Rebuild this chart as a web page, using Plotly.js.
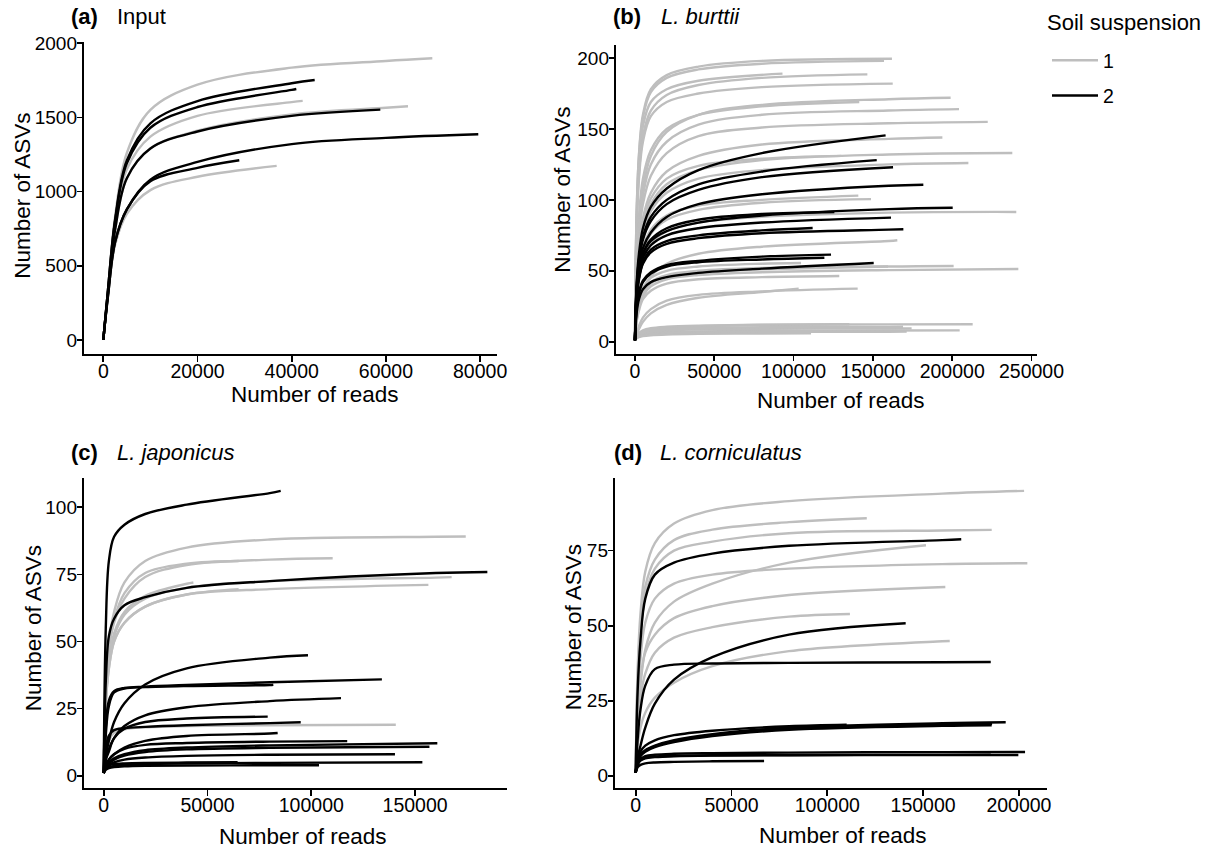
<!DOCTYPE html>
<html>
<head>
<meta charset="utf-8">
<script src="https://cdn.plot.ly/plotly-3.0.1.min.js"></script>
<style>
  html, body { margin: 0; padding: 0; background: #ffffff; }
  #chart { width: 1216px; height: 854px; }
</style>
</head>
<body>
<div id="chart"></div>
<script>
// Rarefaction curves: number of ASVs observed against sequencing depth,
// one curve per sample, coloured by soil suspension (1 = grey, 2 = black).
// Each curve lists the ASV count at the shared sampling depths below its
// own final depth, then ends at the sample's final (reads, ASVs) point.

// ---- (a) Input ----
const inputDepths = [1, 1000, 2500, 5000, 10000, 20000, 40000, 60000];
const inputSuspension = [1, 1, 1, 1, 2, 2, 2, 2, 2];
const inputFinalReads = [69850, 42330, 64690, 36810, 44880, 40980, 58810, 79610, 28870];
const inputFinalASVs = [1898, 1611, 1575, 1173, 1752, 1691, 1552, 1386, 1211];
const inputASVs = [
  [1, 340, 830, 1260, 1550, 1720, 1835, 1880],
  [1, 330, 780, 1150, 1370, 1510, 1603],
  [1, 320, 740, 1090, 1290, 1410, 1520, 1565],
  [1, 290, 640, 850, 1010, 1100],
  [1, 340, 810, 1210, 1460, 1610, 1730],
  [1, 340, 800, 1190, 1430, 1570, 1685],
  [1, 320, 740, 1090, 1290, 1405, 1510],
  [1, 300, 660, 880, 1080, 1200, 1320, 1362],
  [1, 300, 660, 880, 1070, 1160]
];
const inputReadTicks = [0, 20000, 40000, 60000, 80000];
const inputASVTicks = [0, 500, 1000, 1500, 2000];

// ---- (b) L. burttii ----
const burttiiDepths = [1, 1000, 2500, 5000, 10000, 20000, 40000, 80000, 160000];
const burttiiSuspension = [
  1, 1, 1, 1, 1, 1, 1, 1, 1, 1, 1, 1, 1, 1, 1, 1, 1, 1, 1, 1, 1, 1, 1, 1, 1, 1, 1, 1, 1, 1, 1,
  2, 2, 2, 2, 2, 2, 2, 2, 2, 2, 2, 2
];
const burttiiFinalReads = [
  162000, 157000, 93000, 146500, 162500, 199000, 141400, 204300, 222400, 193800, 237900,
  130100, 210200, 140800, 148800, 240400, 165400, 104700, 200900, 159500, 241700, 128800,
  103200, 140400, 212900, 135100, 204700, 174400, 171300, 111000, 169000,
  158000, 152400, 162700, 181800, 200300, 125700, 161400, 169200, 112000, 123600, 119400, 150500
];
const burttiiFinalASVs = [
  199.5, 198, 189, 188.5, 182, 172, 169, 164, 155, 144, 133,
  131, 126, 103, 100.5, 91.5, 71.5, 55.5, 53.4, 53, 51.3, 46.3,
  37.4, 37.4, 12.3, 12.3, 8, 9.4, 7.1, 5.9, 10.5,
  145.5, 128, 123, 110.7, 94.5, 91.5, 87.5, 79.3, 80.2, 61.4, 59.2, 55.5
];
const burttiiASVs = [
  [1, 90, 132, 160, 178, 188, 194, 198],
  [1, 89, 131, 158, 176, 186, 192, 196],
  [1, 85, 125, 152, 169, 178, 184],
  [1, 80, 118, 145, 163, 174, 181, 186],
  [1, 78, 115, 141, 159, 169, 175, 179.5],
  [1, 52, 83, 108, 131, 148, 160, 167, 171],
  [1, 55, 88, 115, 135, 150, 160, 166],
  [1, 50, 79, 103, 125, 141, 153, 160, 163],
  [1, 46, 74, 97, 117, 133, 145, 151, 154],
  [1, 40, 65, 87, 105, 120, 131, 139, 143],
  [1, 37, 60, 80, 97, 111, 121, 128, 132],
  [1, 40, 64, 84, 101, 115, 124, 129],
  [1, 35, 57, 76, 92, 105, 115, 121, 125],
  [1, 32, 50, 66, 79, 89, 96, 100],
  [1, 30, 48, 63, 76, 86, 93, 98],
  [1, 27, 43, 57, 69, 78, 84, 88, 91],
  [1, 15, 26, 36, 46, 55, 62, 67, 71],
  [1, 18, 29, 38, 45, 50, 53, 55],
  [1, 16, 26, 34, 41, 46, 49, 51, 53],
  [1, 17, 27, 35, 42, 47, 50, 52],
  [1, 15, 24, 32, 39, 44, 47, 49, 50.5],
  [1, 14, 22, 30, 36, 41, 44, 45.5],
  [1, 5, 9, 14, 20, 26, 31, 35],
  [1, 6, 11, 17, 23, 29, 33, 35.5],
  [1, 4, 6, 7.5, 9, 10, 11, 11.8, 12.2],
  [1, 4, 6, 8, 9.5, 10.5, 11.3, 12],
  [1, 3, 4, 5, 6, 6.8, 7.3, 7.7, 7.9],
  [1, 3, 5, 6, 7, 8, 8.6, 9.1, 9.3],
  [1, 2.5, 3.5, 4.5, 5.3, 6, 6.5, 6.9, 7],
  [1, 2.5, 3.3, 4, 4.6, 5.1, 5.5, 5.8],
  [1, 3, 5, 6.5, 8, 9, 9.7, 10.2, 10.4],
  [1, 40, 62, 80, 95, 108, 121, 133],
  [1, 38, 58, 74, 88, 100, 111, 120],
  [1, 37, 56, 72, 85, 97, 107, 116],
  [1, 35, 52, 66, 77, 88, 97, 104, 110],
  [1, 34, 50, 62, 71, 78, 84, 89, 93.5],
  [1, 34, 50, 62, 72, 80, 86, 90],
  [1, 32, 47, 59, 68, 75, 80, 84],
  [1, 30, 44, 55, 63, 69, 73, 76.5, 79],
  [1, 30, 45, 56, 65, 71, 75, 78.5],
  [1, 24, 35, 43, 49, 54, 57, 60],
  [1, 23, 34, 42, 48, 53, 56, 58],
  [1, 20, 30, 37, 42, 45.5, 48.5, 51.5]
];
const burttiiReadTicks = [0, 50000, 100000, 150000, 200000, 250000];
const burttiiASVTicks = [0, 50, 100, 150, 200];

// ---- (c) L. japonicus ----
const japonicusDepths = [1, 1000, 2500, 5000, 10000, 20000, 40000, 80000, 160000];
const japonicusSuspension = [1, 1, 1, 1, 1, 1, 1, 1, 2, 2, 2, 2, 2, 2, 2, 2, 2, 2, 2, 2, 2, 2, 2, 2];
const japonicusFinalReads = [
  174400, 110300, 65000, 167600, 156400, 43200, 65000, 140700,
  85260, 184800, 98400, 134000, 81700, 114300, 79000, 94900, 83800, 117300, 160700, 156900,
  140300, 153500, 103700, 64500
];
const japonicusFinalASVs = [
  89.1, 81, 80, 74, 71.1, 72, 69.5, 19,
  106.1, 75.9, 44.9, 35.9, 33.9, 28.9, 22, 19.9, 15.9, 12.9, 12.1, 10.8, 8, 5, 3.9, 5
];
const japonicusASVs = [
  [1, 30, 49, 61, 72, 80, 85, 88, 89],
  [1, 30, 47, 57, 66, 74, 78.5, 80.5],
  [1, 30, 47, 58, 68, 75.5, 79],
  [1, 28, 42, 52, 60, 66, 70, 72.5, 73.8],
  [1, 27, 40, 50, 57, 63, 67.5, 69.5],
  [1, 28, 42, 53, 61, 67, 71.5],
  [1, 27, 40, 50, 57, 63, 67.5],
  [1, 8, 13, 16, 17.3, 18, 18.5, 18.8],
  [1, 55, 80, 89, 93.5, 97.5, 101, 105.3],
  [1, 35, 52, 58.5, 63.5, 66.5, 70, 72.5, 75.5],
  [1, 7, 13, 20, 27, 34, 40, 44],
  [1, 18, 28, 31.5, 32.7, 33.2, 33.8, 34.8],
  [1, 15, 26, 31, 32.5, 33, 33.4, 33.8],
  [1, 6, 10, 14, 18.5, 22.5, 25.5, 27.8],
  [1, 6, 9, 14, 17.5, 20, 21.3],
  [1, 10, 15, 17, 17.7, 18.2, 18.8, 19.6],
  [1, 4, 6, 8, 10.5, 13, 14.8, 15.7],
  [1, 4, 6, 8, 10, 11.5, 12.2, 12.7],
  [1, 3, 5, 6.5, 8, 9.5, 10.5, 11.3],
  [1, 3, 4.5, 6, 7.5, 8.8, 9.8, 10.4],
  [1, 3, 4, 5, 6, 6.8, 7.4, 7.8],
  [1, 2.5, 3.2, 3.6, 4, 4.3, 4.6, 4.8],
  [1, 2.2, 2.8, 3.2, 3.5, 3.7, 3.8, 3.9],
  [1, 3, 3.8, 4.3, 4.6, 4.8, 4.9]
];
const japonicusReadTicks = [0, 50000, 100000, 150000];
const japonicusASVTicks = [0, 25, 50, 75, 100];

// ---- (d) L. corniculatus ----
const corniculatusDepths = [1, 1000, 2500, 5000, 10000, 20000, 40000, 80000, 160000];
const corniculatusSuspension = [1, 1, 1, 1, 1, 1, 1, 1, 2, 2, 2, 2, 2, 2, 2, 2, 2, 2, 2];
const corniculatusFinalReads = [
  202700, 120600, 185800, 151500, 204400, 161600, 111800, 163900,
  169900, 140900, 185300, 193100, 185800, 186000, 110100, 203200, 199700, 185300, 67000
];
const corniculatusFinalASVs = [
  94.9, 85.8, 81.9, 76.8, 70.8, 62.9, 53.9, 44.9,
  78.8, 50.8, 37.9, 17.8, 16.8, 17.3, 17, 7.9, 6.9, 7.0, 4.9
];
const corniculatusASVs = [
  [1, 35, 54, 68, 77.5, 84, 88.5, 91.5, 94],
  [1, 32, 50, 63, 72, 78.5, 82, 84.5],
  [1, 30, 47, 60, 69, 75, 78, 80.8, 81.7],
  [1, 18, 30, 42, 51, 58, 64, 71],
  [1, 24, 39, 51, 59, 64, 67, 69, 70.5],
  [1, 20, 32, 41, 47, 52.5, 56.5, 60.2],
  [1, 17, 26, 34, 41, 46, 49.5, 53],
  [1, 10, 16, 21, 26, 31, 36.5, 41.5, 44.8],
  [1, 28, 45, 59, 67, 71, 74, 76.6, 78.5],
  [1, 6, 10, 16, 24, 32, 39.5, 47],
  [1, 12, 22, 30, 35.5, 37, 37.4, 37.6, 37.8],
  [1, 5, 7, 8.5, 10, 11.8, 13.8, 16, 17.5],
  [1, 4.5, 6.5, 8, 9.5, 11.2, 13.2, 15.3, 16.6],
  [1, 4.8, 6.8, 8.3, 9.8, 11.5, 13.5, 15.7, 17.1],
  [1, 5.5, 8, 10, 11.8, 13.5, 15, 16.5],
  [1, 4, 5.5, 6.5, 7, 7.3, 7.5, 7.7, 7.85],
  [1, 3.6, 5, 5.8, 6.2, 6.5, 6.7, 6.8, 6.9],
  [1, 3.8, 5.2, 6, 6.4, 6.6, 6.8, 6.9, 6.95],
  [1, 2.8, 3.6, 4.1, 4.4, 4.6, 4.8]
];
const corniculatusReadTicks = [0, 50000, 100000, 150000, 200000];
const corniculatusASVTicks = [0, 25, 50, 75];

const suspensionLabels = ['1', '2'];

// ---- drawing ----
const W = 1216, H = 854;
const fx = p => p / W;          // pixel column -> paper x
const fy = p => 1 - p / H;      // pixel row -> paper y
const FONT = 'Liberation Sans, Arial, Helvetica, sans-serif';
const suspensionColour = { 1: '#BEBEBE', 2: '#000000' };

const panels = [
  { depths: inputDepths, susp: inputSuspension, reads: inputFinalReads, asvs: inputFinalASVs,
    curves: inputASVs, xticks: inputReadTicks, yticks: inputASVTicks,
    box: [84, 496.7, 41.7, 354.3], xr: [-4097, 83520], yr: [-96.4, 2010] },
  { depths: burttiiDepths, susp: burttiiSuspension, reads: burttiiFinalReads, asvs: burttiiFinalASVs,
    curves: burttiiASVs, xticks: burttiiReadTicks, yticks: burttiiASVTicks,
    box: [616, 1036.7, 45, 354], xr: [-11980, 253270], yr: [-8.67, 209.2] },
  { depths: japonicusDepths, susp: japonicusSuspension, reads: japonicusFinalReads, asvs: japonicusFinalASVs,
    curves: japonicusASVs, xticks: japonicusReadTicks, yticks: japonicusASVTicks,
    box: [84, 506.7, 478.3, 788.3], xr: [-9490, 194120], yr: [-4.69, 110.8] },
  { depths: corniculatusDepths, susp: corniculatusSuspension, reads: corniculatusFinalReads, asvs: corniculatusFinalASVs,
    curves: corniculatusASVs, xticks: corniculatusReadTicks, yticks: corniculatusASVTicks,
    box: [615, 1046.7, 478.3, 788.3], xr: [-10800, 214500], yr: [-4.2, 99.1] }
];

const traces = [];
const legendShown = { 1: false, 2: false };
const layout = {
  width: W, height: H,
  margin: { l: 0, r: 0, t: 0, b: 0 },
  paper_bgcolor: '#ffffff', plot_bgcolor: '#ffffff',
  font: { family: FONT, color: '#000000', size: 19 },
  showlegend: true,
  legend: {
    x: fx(1047), y: fy(41), xanchor: 'left', yanchor: 'top',
    bgcolor: 'rgba(0,0,0,0)', borderwidth: 0,
    font: { size: 19.5, family: FONT, color: '#000000' },
    itemwidth: 46,
    traceorder: 'grouped', tracegroupgap: 7
  },
  annotations: []
};

const axisStyle = {
  showline: true, linecolor: '#000000', linewidth: 1.7,
  ticks: 'outside', ticklen: 5.5, tickwidth: 1.7, tickcolor: '#000000',
  showgrid: false, zeroline: false, fixedrange: true,
  tickformat: 'd', tickmode: 'array'
};

panels.forEach((p, k) => {
  const xa = 'x' + (k ? k + 1 : ''), ya = 'y' + (k ? k + 1 : '');
  const xName = 'xaxis' + (k ? k + 1 : ''), yName = 'yaxis' + (k ? k + 1 : '');
  layout[xName] = Object.assign({}, axisStyle, {
    domain: [fx(p.box[0]), fx(p.box[1])], range: p.xr, anchor: ya, tickvals: p.xticks,
    tickfont: { size: 19.5, family: FONT, color: '#000000' }, ticklabelstandoff: -7
  });
  layout[yName] = Object.assign({}, axisStyle, {
    domain: [fy(p.box[3]), fy(p.box[2])], range: p.yr, anchor: xa, tickvals: p.yticks,
    tickfont: { size: 19, family: FONT, color: '#000000' }, ticklabelstandoff: -4
  });
  // grey curves first so the black ones sit on top
  [1, 2].forEach(g => {
    p.curves.forEach((c, i) => {
      if (p.susp[i] !== g) return;
      const x = p.depths.slice(0, c.length).concat([p.reads[i]]);
      const y = c.concat([p.asvs[i]]);
      const show = !legendShown[g];
      legendShown[g] = true;
      traces.push({
        type: 'scatter', mode: 'lines', x: x, y: y, xaxis: xa, yaxis: ya,
        line: { color: suspensionColour[g], width: 2.4, shape: 'spline', smoothing: 1, simplify: false },
        name: suspensionLabels[g - 1], legendgroup: 's' + g, showlegend: show,
        hoverinfo: 'skip'
      });
    });
  });
});

// panel tags and titles
const tags = [
  { tag: '(a)', title: 'Input', x: 69, x2: 115, y: 16.5 },
  { tag: '(b)', title: '<i>L. burttii</i>', x: 610.6, x2: 659, y: 16.5 },
  { tag: '(c)', title: '<i>L. japonicus</i>', x: 69.3, x2: 115, y: 452.5 },
  { tag: '(d)', title: '<i>L. corniculatus</i>', x: 611.7, x2: 658.3, y: 452.5 }
];
tags.forEach(t => {
  layout.annotations.push({
    xref: 'paper', yref: 'paper', x: fx(t.x), y: fy(t.y), xanchor: 'left', yanchor: 'middle',
    text: '<b>' + t.tag + '</b>', showarrow: false, font: { size: 22, family: FONT, color: '#000' }
  });
  layout.annotations.push({
    xref: 'paper', yref: 'paper', x: fx(t.x2), y: fy(t.y), xanchor: 'left', yanchor: 'middle',
    text: t.title, showarrow: false, font: { size: 22, family: FONT, color: '#000' }
  });
});

// legend heading
layout.annotations.push({
  xref: 'paper', yref: 'paper', x: fx(1045), y: fy(22.5), xanchor: 'left', yanchor: 'middle',
  text: 'Soil suspension', showarrow: false, font: { size: 22, family: FONT, color: '#000' }
});

// axis titles
const xTitles = [[315, 394], [841, 401], [303, 836], [842.5, 835]];
const yTitles = [[21.7, 196], [561.7, 190], [33.3, 628], [573.3, 627]];
xTitles.forEach(c => layout.annotations.push({
  xref: 'paper', yref: 'paper', x: fx(c[0]), y: fy(c[1]), xanchor: 'center', yanchor: 'middle',
  text: 'Number of reads', showarrow: false, font: { size: 22.5, family: FONT, color: '#000' }
}));
yTitles.forEach(c => layout.annotations.push({
  xref: 'paper', yref: 'paper', x: fx(c[0]), y: fy(c[1]), xanchor: 'center', yanchor: 'middle',
  text: 'Number of ASVs', textangle: -90, showarrow: false, font: { size: 22.5, family: FONT, color: '#000' }
}));

Plotly.newPlot('chart', traces, layout, { staticPlot: true, displayModeBar: false });
</script>
</body>
</html>
